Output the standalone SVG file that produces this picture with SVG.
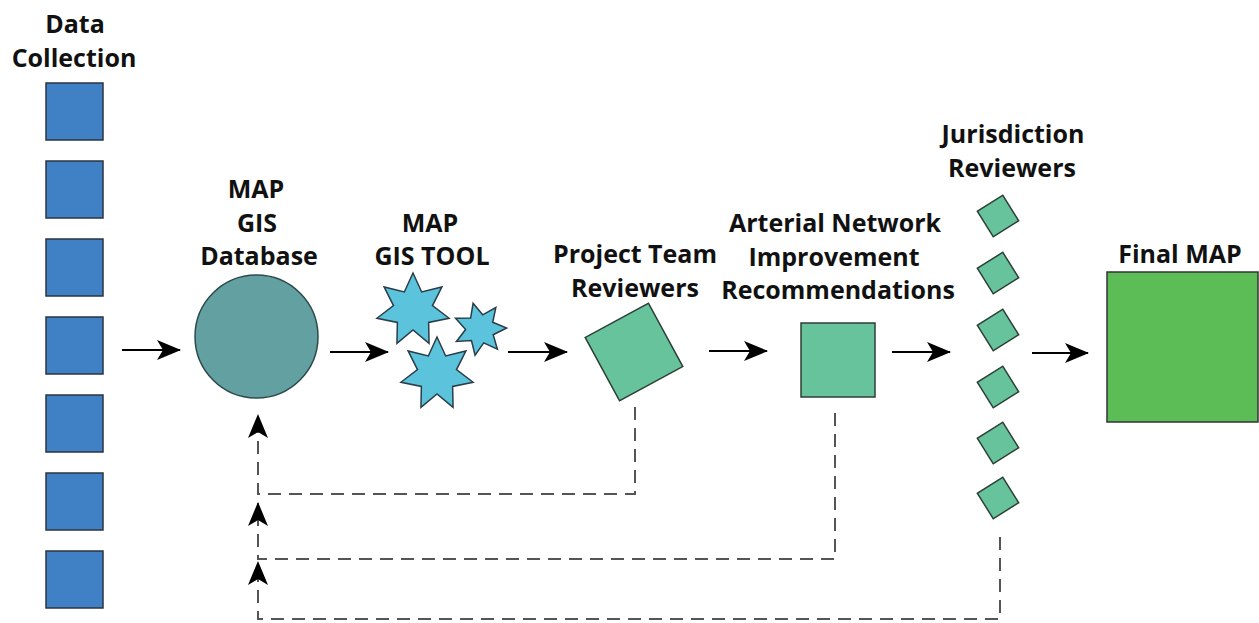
<svg xmlns="http://www.w3.org/2000/svg" xmlns:xlink="http://www.w3.org/1999/xlink" width="1259" height="623" viewBox="0 0 1259 623">
<style>
  .lbl { font-family: "Open Sans", "Liberation Sans", sans-serif; font-weight: bold; font-size: 25px; fill: #111; text-anchor: middle; }
  .dc { fill: #4080C4; stroke: #2b3440; stroke-width: 1.5; }
  .grn { fill: #67C39C; stroke: #2c3f36; stroke-width: 1.5; }
  .star { fill: #5BC4DC; stroke: #2a3d48; }
  .flow { stroke: #000; stroke-width: 2; fill: none; marker-end: url(#ah); }
  .fb { stroke: #555; stroke-width: 2; fill: none; stroke-dasharray: 13 8; marker-end: url(#ah); }
</style>
<defs>
  <marker id="ah" markerUnits="userSpaceOnUse" markerWidth="24" markerHeight="20" refX="23" refY="10" orient="auto">
    <path d="M0,0 L24,10 L0,20 L6,10 Z" fill="#000"/>
  </marker>
  <path id="starshape" d="M0,-37 L8.68,-18.02 L28.93,-23.07 L19.5,-4.45 L36.07,8.23 L15.64,12.47 L16.05,33.34 L0,20 L-16.05,33.34 L-15.64,12.47 L-36.07,8.23 L-19.5,-4.45 L-28.93,-23.07 L-8.68,-18.02 Z"/>
</defs>
<rect width="1259" height="623" fill="#fff"/>

<g id="data-collection">
  <text class="lbl" x="75" y="33">Data</text>
  <text class="lbl" x="74" y="67">Collection</text>
  <rect class="dc" x="46" y="83" width="57" height="57"/>
  <rect class="dc" x="46" y="161" width="57" height="57"/>
  <rect class="dc" x="46" y="239" width="57" height="57"/>
  <rect class="dc" x="46" y="317" width="57" height="57"/>
  <rect class="dc" x="46" y="395" width="57" height="57"/>
  <rect class="dc" x="46" y="473" width="57" height="57"/>
  <rect class="dc" x="46" y="551" width="57" height="57"/>
</g>

<g id="gis-database">
  <text class="lbl" x="256" y="198">MAP</text>
  <text class="lbl" x="257" y="232">GIS</text>
  <text class="lbl" x="259" y="265">Database</text>
  <circle cx="256.5" cy="336.5" r="61.5" fill="#62A0A2" stroke="#2c4a4a" stroke-width="1.5"/>
</g>

<g id="gis-tool">
  <text class="lbl" x="430" y="232">MAP</text>
  <text class="lbl" x="432" y="265">GIS TOOL</text>
  <use xlink:href="#starshape" class="star" stroke-width="1.5" transform="translate(413,310)"/>
  <use xlink:href="#starshape" class="star" stroke-width="2.1" transform="translate(480,329) rotate(-15) scale(0.72)"/>
  <use xlink:href="#starshape" class="star" stroke-width="1.5" transform="translate(437,374)"/>
</g>

<g id="project-team-reviewers">
  <text class="lbl" x="635" y="263">Project Team</text>
  <text class="lbl" x="635" y="297">Reviewers</text>
  <rect class="grn" x="-36" y="-36" width="72" height="72" transform="translate(634,352) rotate(-28.5)"/>
</g>

<g id="recommendations">
  <text class="lbl" x="835" y="232">Arterial Network</text>
  <text class="lbl" x="834" y="266">Improvement</text>
  <text class="lbl" x="838" y="299">Recommendations</text>
  <rect class="grn" x="801" y="323" width="74" height="74"/>
</g>

<g id="jurisdiction-reviewers">
  <text class="lbl" x="1013" y="143">Jurisdiction</text>
  <text class="lbl" x="1012" y="177">Reviewers</text>
  <rect class="grn" x="-15" y="-15" width="30" height="30" transform="translate(998,216) rotate(-32)"/>
  <rect class="grn" x="-15" y="-15" width="30" height="30" transform="translate(998,273) rotate(-32)"/>
  <rect class="grn" x="-15" y="-15" width="30" height="30" transform="translate(998,330) rotate(-32)"/>
  <rect class="grn" x="-15" y="-15" width="30" height="30" transform="translate(998,387) rotate(-32)"/>
  <rect class="grn" x="-15" y="-15" width="30" height="30" transform="translate(998,443) rotate(-32)"/>
  <rect class="grn" x="-15" y="-15" width="30" height="30" transform="translate(998,498) rotate(-32)"/>
</g>

<g id="final-map">
  <text class="lbl" x="1180" y="263">Final MAP</text>
  <rect x="1107" y="272" width="151" height="150" fill="#5CBC56" stroke="#333" stroke-width="1.5"/>
</g>

<g id="connectors">
  <line class="flow" x1="122" y1="350" x2="180" y2="350"/>
  <line class="flow" x1="330" y1="352" x2="388" y2="352"/>
  <line class="flow" x1="508" y1="352" x2="567" y2="352"/>
  <line class="flow" x1="709" y1="351" x2="767" y2="351"/>
  <line class="flow" x1="892" y1="352" x2="950" y2="352"/>
  <line class="flow" x1="1032" y1="353" x2="1088" y2="353"/>
  <path class="fb" d="M635,407 V494 H258 V415"/>
  <path class="fb" d="M835,413 V559 H258 V503"/>
  <path class="fb" d="M1000,537 V619 H258 V562"/>
</g>
</svg>
